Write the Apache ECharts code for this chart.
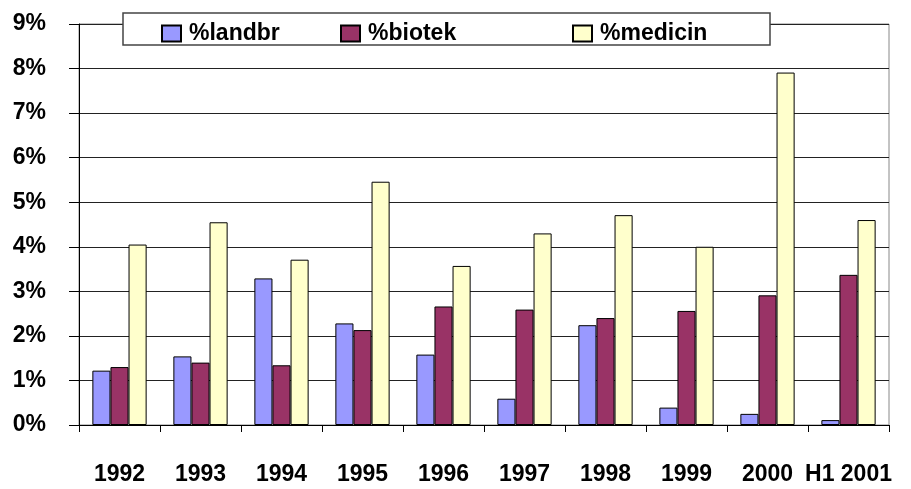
<!DOCTYPE html>
<html>
<head>
<meta charset="utf-8">
<script src="https://cdn.jsdelivr.net/npm/echarts@6/dist/echarts.min.js"></script>
<style>
  html, body { margin: 0; padding: 0; background: #fff; }
  #chart { width: 911px; height: 489px; }
</style>
</head>
<body>
<div id="chart"></div>
<script>
// kategorier och värden (procent)
const years = ['1992', '1993', '1994', '1995', '1996', '1997', '1998', '1999', '2000', 'H1 2001'];
const landbr = [1.22, 1.54, 3.29, 2.28, 1.58, 0.59, 2.24, 0.39, 0.25, 0.11];
const biotek = [1.30, 1.40, 1.34, 2.13, 2.66, 2.59, 2.40, 2.56, 2.91, 3.37];
const medicin = [4.05, 4.55, 3.71, 5.46, 3.57, 4.30, 4.71, 4.00, 7.91, 4.60];
const yTicks = [0, 1, 2, 3, 4, 5, 6, 7, 8, 9];

const FONT = '"Liberation Sans", Arial, sans-serif';

const chart = echarts.init(document.getElementById('chart'));

const legendBase = {
  top: 22,
  padding: 0,
  itemWidth: 19,
  itemHeight: 16,
  icon: 'rect',
  textStyle: { fontFamily: FONT, fontWeight: 'bold', fontSize: 23, color: '#000', padding: [0, 0, 0, 3] },
  selectedMode: false
};

const barSeries = (name, data, color) => ({
  name,
  type: 'bar',
  data,
  barGap: '0%',
  barCategoryGap: '33%',
  itemStyle: { color, borderColor: '#000', borderWidth: 1 }
});

chart.setOption({
  animation: false,
  grid: {
    left: 79, right: 22, top: 24, bottom: 64,
    show: true, borderColor: '#888', borderWidth: 1
  },
  graphic: [{
    type: 'rect',
    z: 3,
    shape: { x: 123, y: 13, width: 647, height: 32 },
    style: { fill: '#fff', stroke: '#444', lineWidth: 1.5 }
  }],
  legend: [
    Object.assign({}, legendBase, { left: 161, data: ['%landbr'] }),
    Object.assign({}, legendBase, { left: 340, data: ['%biotek'] }),
    Object.assign({}, legendBase, { left: 572, data: ['%medicin'] })
  ],
  xAxis: {
    type: 'category',
    data: years,
    axisLine: { lineStyle: { color: '#000', width: 1 } },
    axisTick: { show: true, length: 7, lineStyle: { color: '#000' } },
    axisLabel: { fontFamily: FONT, fontWeight: 'bold', fontSize: 23, color: '#000', margin: 38, interval: 0 }
  },
  yAxis: {
    type: 'value',
    min: yTicks[0],
    max: yTicks[yTicks.length - 1],
    interval: 1,
    axisLine: { show: true, lineStyle: { color: '#000', width: 1 } },
    axisTick: { show: true, length: 10, lineStyle: { color: '#000' } },
    splitLine: { lineStyle: { color: '#222', width: 1 } },
    axisLabel: { fontFamily: FONT, fontWeight: 'bold', fontSize: 23, color: '#000', margin: 33, formatter: '{value}%' }
  },
  series: [
    barSeries('%landbr', landbr, '#9999FF'),
    barSeries('%biotek', biotek, '#993366'),
    barSeries('%medicin', medicin, '#FFFFCC')
  ]
});
</script>
</body>
</html>
